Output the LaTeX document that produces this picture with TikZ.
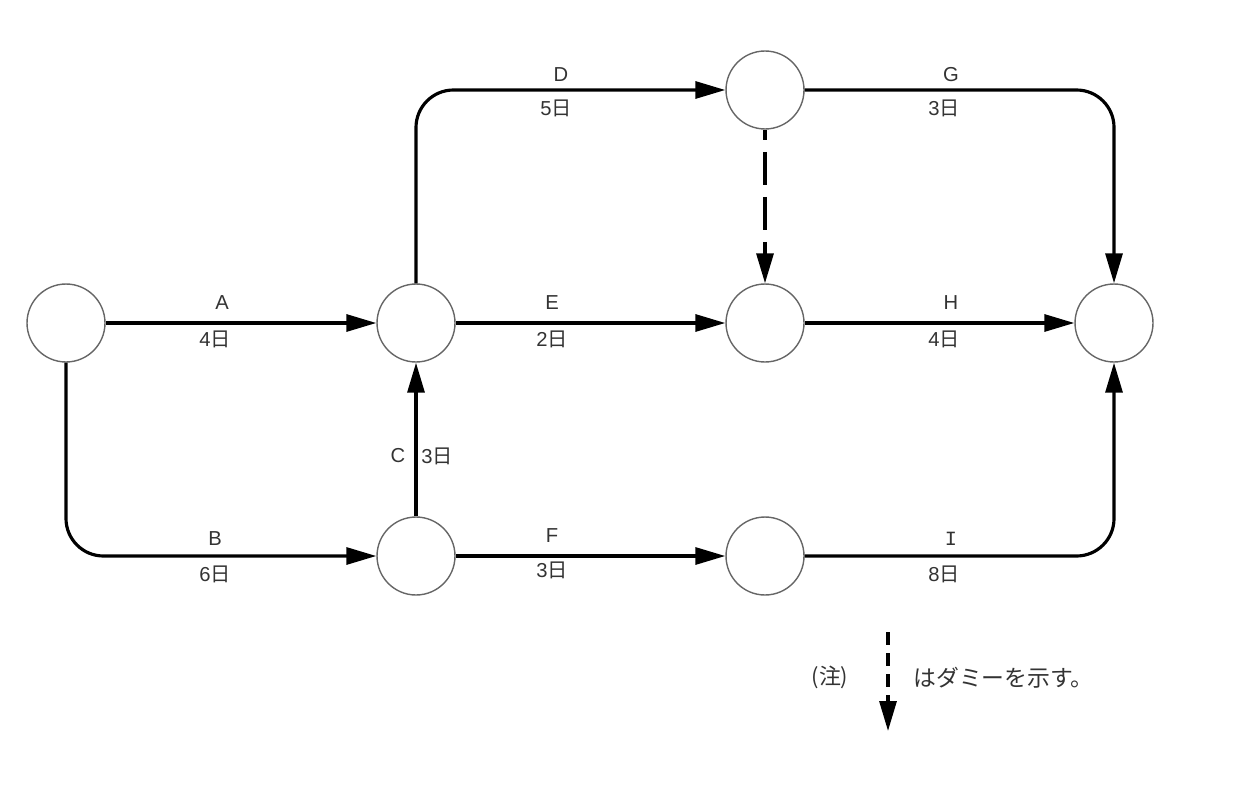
\documentclass[tikz,border=0pt]{standalone}
\usepackage{fontspec}
\setmainfont{Liberation Sans}
\setmonofont{Liberation Mono}
\newfontfamily\jpfont{Noto Sans CJK JP}
\usetikzlibrary{arrows.meta}
\newcommand{\jday}{{\jpfont 日}}
\begin{document}
\begin{tikzpicture}[x=0.02cm,y=-0.02cm,
  ev/.style={circle,draw=black!60,line width=0.8pt,minimum size=1.56cm,inner sep=0pt,fill=white},
  act/.style={line width=1.8pt,rounded corners=0.75cm,-{Triangle[length=0.6cm,width=0.34cm]}},
  dum/.style={act,dash pattern=on 18.8pt off 6.8pt,dash phase=13pt},
  lbl/.style={inner sep=0pt,font=\fontsize{11.5}{13}\selectfont,text=black!80}]
\useasboundingbox (0,0) rectangle (1256,787);
\node[ev] (n1) at (66,323) {};
\node[ev] (n2) at (416,323) {};
\node[ev] (n3) at (765,90) {};
\node[ev] (n4) at (765,323) {};
\node[ev] (n5) at (1114,323) {};
\node[ev] (n6) at (416,556) {};
\node[ev] (n7) at (765,556) {};
% activities
\draw[act] (n1) -- (n2);
\draw[act] (n1.south) |- (n6.west);
\draw[act] (n6) -- (n2);
\draw[act] (n2.north) |- (n3.west);
\draw[act] (n2) -- (n4);
\draw[act] (n6) -- (n7);
\draw[act] (n3.east) -| (n5.north);
\draw[act] (n4) -- (n5);
\draw[act] (n7.east) -| (n5.south);
\draw[dum] (n3) -- (n4);
% labels
\node[lbl] (la) at (222,303) {A};
\node[lbl] (la2) at (215,339) {4\jday};
\node[lbl] (lb) at (215,539) {B};
\node[lbl] (lb2) at (215,574) {6\jday};
\node[lbl] (lc) at (398,456) {C};
\node[lbl] (lc2) at (437,456) {3\jday};
\node[lbl] (ld) at (561,75) {D};
\node[lbl] (ld2) at (556,108) {5\jday};
\node[lbl] (le) at (552,303) {E};
\node[lbl] (le2) at (552,339) {2\jday};
\node[lbl] (lf) at (552,536) {F};
\node[lbl] (lf2) at (552,570) {3\jday};
\node[lbl] (lg) at (951,75) {G};
\node[lbl] (lg2) at (944,108) {3\jday};
\node[lbl] (lh) at (951,303) {H};
\node[lbl] (lh2) at (944,339) {4\jday};
\node[lbl] (li) at (951,539) {\ttfamily I};
\node[lbl] (li2) at (944,574) {8\jday};
% legend
\node[lbl,font=\jpfont\fontsize{12.5}{14}\selectfont] (note1) at (830,677) {(注)};
\coordinate (d1) at (888,632);
\coordinate (d2) at (888,731);
\draw[line width=1.8pt,dash pattern=on 7.5pt off 4.5pt,-{Triangle[length=0.6cm,width=0.34cm]}] (d1) -- (d2);
\node[lbl,anchor=west,font=\jpfont\fontsize{13}{15}\selectfont] (note2) at (913,678) {はダミーを示す。};
\end{tikzpicture}
\end{document}
